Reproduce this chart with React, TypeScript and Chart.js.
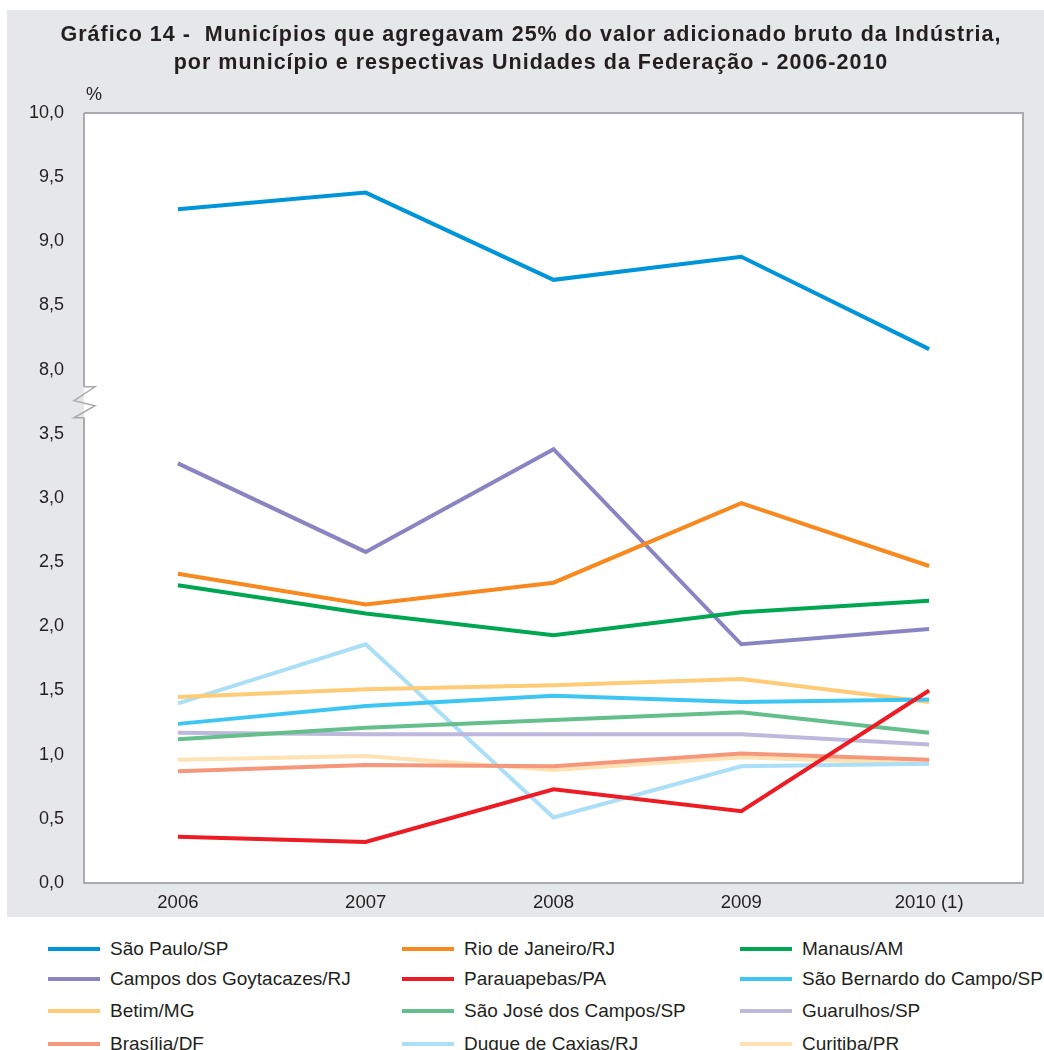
import React, { useEffect, useRef } from "react";
import { Chart, registerables } from "chart.js";

Chart.register(...registerables);

// ---------- data ----------
const years = ["2006", "2007", "2008", "2009", "2010 (1)"];

const saoPaulo = [9.25, 9.38, 8.7, 8.88, 8.16];
const rioDeJaneiro = [2.41, 2.17, 2.34, 2.96, 2.47];
const manaus = [2.32, 2.1, 1.93, 2.11, 2.2];
const camposGoytacazes = [3.27, 2.58, 3.38, 1.86, 1.98];
const parauapebas = [0.36, 0.32, 0.73, 0.56, 1.5];
const saoBernardo = [1.24, 1.38, 1.46, 1.41, 1.43];
const betim = [1.45, 1.51, 1.54, 1.59, 1.41];
const saoJoseCampos = [1.12, 1.21, 1.27, 1.33, 1.17];
const guarulhos = [1.17, 1.16, 1.16, 1.16, 1.08];
const brasilia = [0.87, 0.92, 0.91, 1.01, 0.96];
const duqueCaxias = [1.4, 1.86, 0.51, 0.91, 0.93];
const curitiba = [0.96, 0.99, 0.88, 0.98, 0.93];

const seriesNames = [
  "São Paulo/SP",
  "Rio de Janeiro/RJ",
  "Manaus/AM",
  "Campos dos Goytacazes/RJ",
  "Parauapebas/PA",
  "São Bernardo do Campo/SP",
  "Betim/MG",
  "São José dos Campos/SP",
  "Guarulhos/SP",
  "Brasília/DF",
  "Duque de Caxias/RJ",
  "Curitiba/PR",
];
const seriesValues = [
  saoPaulo,
  rioDeJaneiro,
  manaus,
  camposGoytacazes,
  parauapebas,
  saoBernardo,
  betim,
  saoJoseCampos,
  guarulhos,
  brasilia,
  duqueCaxias,
  curitiba,
];

const lowerTickLabels = ["0,0", "0,5", "1,0", "1,5", "2,0", "2,5", "3,0", "3,5"];
const upperTickLabels = ["8,0", "8,5", "9,0", "9,5", "10,0"];

const titleLines = [
  "Gráfico 14 -  Municípios que agregavam 25% do valor adicionado bruto da Indústria,",
  "por município e respectivas Unidades da Federação - 2006-2010",
];
const unitLabel = "%";

// broken axis: values from 8 upward are drawn 4 units lower
const BREAK_START = 8;
const BREAK_GAP = 4;
const toAxis = (v: number) => (v >= BREAK_START ? v - BREAK_GAP : v);

// ---------- styles ----------
const colors = [
  "#0095d9",
  "#f7891f",
  "#00a651",
  "#8a84c3",
  "#ed1c24",
  "#3ec6f3",
  "#fecb77",
  "#64bf8c",
  "#bdb8dc",
  "#f5977b",
  "#abdff7",
  "#ffe2b3",
];

const FONT = "'Liberation Sans', Arial, Helvetica, sans-serif";
const TEXT = "#231f20";
const BG = "#e6e7e8";
const FRAME = "#a9abae";

const framePlugin = {
  id: "frameAndBreak",
  beforeDatasetsDraw(chart: any) {
    const { ctx, chartArea } = chart;
    const { left, right, top, bottom } = chartArea;
    ctx.save();
    ctx.fillStyle = "#ffffff";
    ctx.fillRect(left, top, right - left, bottom - top);
    ctx.restore();
  },
  afterDatasetsDraw(chart: any) {
    const { ctx, chartArea, scales } = chart;
    const { left, right, top, bottom } = chartArea;
    const y = scales.y;
    const yUpper = y.getPixelForValue(3.75) - 15;
    const yLower = y.getPixelForValue(3.75) + 16;
    ctx.save();
    ctx.strokeStyle = FRAME;
    ctx.lineWidth = 2;
    ctx.beginPath();
    ctx.moveTo(left, top);
    ctx.lineTo(right, top);
    ctx.lineTo(right, bottom);
    ctx.lineTo(left, bottom);
    ctx.lineTo(left, yLower);
    ctx.moveTo(left, top);
    ctx.lineTo(left, yUpper);
    ctx.stroke();
    // zigzag break
    ctx.lineWidth = 1.5;
    ctx.beginPath();
    ctx.moveTo(left, yUpper);
    ctx.lineTo(left + 11, yUpper);
    ctx.lineTo(left - 10, yUpper + 14);
    ctx.lineTo(left + 11, yUpper + 19);
    ctx.lineTo(left - 10, yLower);
    ctx.lineTo(left, yLower);
    ctx.stroke();
    // unit label
    ctx.fillStyle = TEXT;
    ctx.font = `18px ${FONT}`;
    ctx.textAlign = "left";
    ctx.textBaseline = "middle";
    ctx.fillText(unitLabel, left + 2, top - 18);
    ctx.restore();
  },
};

function ChartCanvas() {
  const ref = useRef<HTMLCanvasElement | null>(null);
  useEffect(() => {
    if (!ref.current) return;
    const chart = new Chart(ref.current, {
      type: "line",
      data: {
        labels: years,
        datasets: seriesValues.map((vals, i) => ({
          label: seriesNames[i],
          data: vals.map(toAxis),
          borderColor: colors[i],
          backgroundColor: colors[i],
          borderWidth: 4,
          pointRadius: 0,
          tension: 0,
          fill: false,
        })),
      },
      options: {
        responsive: false,
        animation: false,
        maintainAspectRatio: false,
        layout: { padding: { left: 0, right: 21, top: 103, bottom: 0 } },
        plugins: {
          legend: { display: false },
          tooltip: { enabled: false },
          title: { display: false },
        },
        scales: {
          x: {
            offset: true,
            grid: { display: false },
            border: { display: false },
            ticks: {
              color: TEXT,
              font: { family: FONT, size: 18.5 },
              padding: 1,
              maxRotation: 0,
            },
            afterFit: (s: any) => {
              s.height = 34;
            },
          },
          y: {
            min: 0,
            max: 6,
            grid: { display: false },
            border: { display: false },
            ticks: {
              stepSize: 0.5,
              color: TEXT,
              font: { family: FONT, size: 18 },
              padding: 12,
              callback: (_v: any, idx: number) =>
                idx < lowerTickLabels.length
                  ? lowerTickLabels[idx]
                  : upperTickLabels[idx - lowerTickLabels.length],
            },
            afterFit: (s: any) => {
              s.width = 77;
            },
          },
        },
      },
      plugins: [framePlugin],
    });
    return () => chart.destroy();
  }, []);
  return (
    <canvas
      ref={ref}
      width={1037}
      height={907}
      style={{ position: "absolute", left: 7, top: 10, width: 1037, height: 907 }}
    />
  );
}

const legendCols = [48, 402, 740];
const legendRows = [949, 979, 1011, 1044];
const titleTops = [21, 49];

export default function App() {
  return (
    <div
      style={{
        position: "fixed",
        left: 0,
        top: 0,
        width: 1044,
        height: 1050,
        overflow: "hidden",
        background: "#ffffff",
        fontFamily: FONT,
      }}
    >
      <div
        style={{ position: "absolute", left: 7, top: 10, width: 1037, height: 907, background: BG }}
      />
      <ChartCanvas />
      {titleLines.map((t, i) => (
        <div
          key={t}
          style={{
            position: "absolute",
            left: 0,
            top: titleTops[i],
            width: 1062,
            textAlign: "center",
            fontSize: 21.5,
            lineHeight: "26px",
            fontWeight: "bold",
            letterSpacing: 1,
            color: TEXT,
            whiteSpace: "pre",
          }}
        >
          {t}
        </div>
      ))}
      {seriesNames.map((name, i) => {
        const col = i % 3;
        const row = Math.floor(i / 3);
        const x = legendCols[col];
        const y = legendRows[row];
        return (
          <div key={name}>
            <div
              style={{
                position: "absolute",
                left: x,
                top: y - 2,
                width: 52,
                height: 4,
                background: colors[i],
              }}
            />
            <div
              style={{
                position: "absolute",
                left: x + 62,
                top: y - 12,
                height: 24,
                lineHeight: "24px",
                fontSize: 19,
                color: TEXT,
                whiteSpace: "nowrap",
              }}
            >
              {name}
            </div>
          </div>
        );
      })}
    </div>
  );
}
